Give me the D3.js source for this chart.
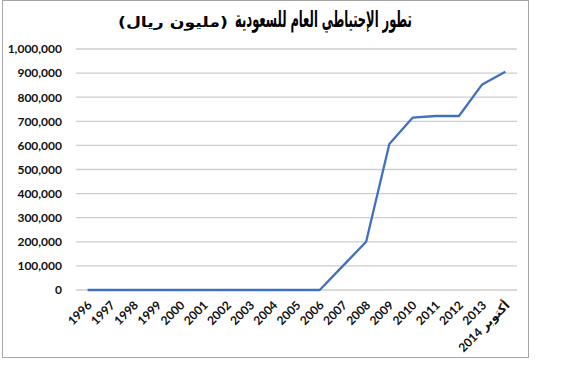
<!DOCTYPE html>
<html>
<head>
<meta charset="utf-8">
<script src="https://cdn.jsdelivr.net/npm/d3@7"></script>
<style>
  body { margin: 0; background: #fff; }
  svg { display: block; }
</style>
</head>
<body>
<svg id="chart"></svg>
<script>
// years along the bottom, last one is October 2014
const years = ["1996", "1997", "1998", "1999", "2000", "2001", "2002", "2003", "2004",
    "2005", "2006", "2007", "2008", "2009", "2010", "2011", "2012", "2013", "أكتوبر 2014"];
// general reserve, million riyals
const reserve = [0, 0, 0, 0, 0, 0, 0, 0, 0,
    0, 0, 100000, 200000, 606000, 715000, 722000, 722000, 853000, 906000];
const yTicks = [0, 100000, 200000, 300000, 400000, 500000, 600000, 700000, 800000, 900000, 1000000];

const titleMain = "تطور الإحتياطي العام للسعودية";
const titleUnit = "(مليون ريال)";

const width = 570, height = 371;
const plot = { left: 76, right: 517, top: 49, bottom: 290 };

const svg = d3.select("#chart").attr("width", width).attr("height", height);

// outer chart frame
svg.append("rect")
    .attr("x", 2.5).attr("y", 0.5)
    .attr("width", 526).attr("height", 357)
    .attr("fill", "#fff")
    .attr("stroke", "#a6a6a6");

const x = d3.scalePoint().domain(years).range([plot.left, plot.right]).padding(0.5);
const y = d3.scaleLinear().domain([0, 1000000]).range([plot.bottom, plot.top]);

// gridlines
svg.append("g")
    .selectAll("line")
    .data(yTicks)
    .enter().append("line")
        .attr("x1", plot.left).attr("x2", plot.right)
        .attr("y1", d => y(d)).attr("y2", d => y(d))
        .attr("stroke", "#d0cdcd")
        .attr("stroke-width", 1.3);

// y labels
svg.append("g")
    .selectAll("text")
    .data(yTicks)
    .enter().append("text")
        .attr("x", 62)
        .attr("y", d => y(d))
        .attr("dy", "0.36em")
        .attr("text-anchor", "end")
        .style("font", "bold 12px Lato, sans-serif")
        .style("fill", "#111")
        .text(d => d3.format(",")(d));

// x labels, rotated
svg.append("g")
    .selectAll("text")
    .data(years)
    .enter().append("text")
        .attr("transform", d => "translate(" + (x(d) + 2) + "," + (plot.bottom + 13) + ") rotate(-45)")
        .attr("dy", "0.35em")
        .attr("text-anchor", "end")
        .style("font", "bold 12px Lato, 'DejaVu Sans', sans-serif")
        .style("fill", "#111")
        .text(d => d);

// reserve line
const line = d3.line()
    .x((d, i) => x(years[i]))
    .y(d => y(d));

svg.append("path")
    .datum(reserve)
    .attr("d", line)
    .attr("fill", "none")
    .attr("stroke", "#4170bf")
    .attr("stroke-width", 2.3)
    .attr("stroke-linejoin", "round");

// title: squeeze the wide DejaVu Arabic into the box the original uses
function fitText(str, size, left, baseline, boxWidth) {
    const g = svg.append("g");
    const t = g.append("text")
        .style("font", "bold " + size + "px 'DejaVu Sans', sans-serif")
        .style("fill", "#000")
        .text(str);
    const w = t.node().getComputedTextLength();
    g.attr("transform", "translate(" + left + "," + baseline + ") scale(" + (boxWidth / w) + ",1)");
}

fitText(titleMain, 23, 235, 27, 177);
fitText(titleUnit, 14, 118, 27, 110);
</script>
</body>
</html>
